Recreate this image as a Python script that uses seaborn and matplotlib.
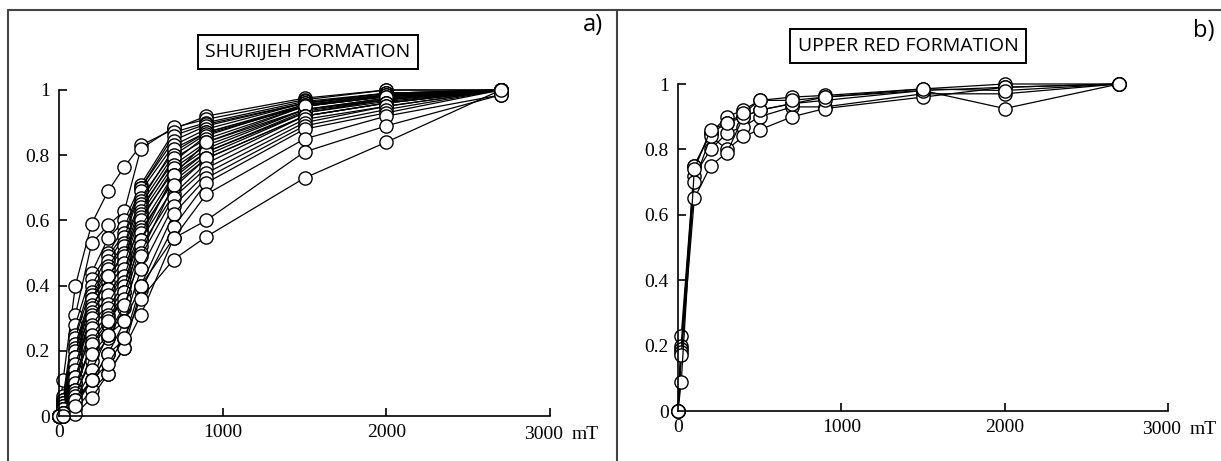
import numpy as np
import pandas as pd
import seaborn as sns
import matplotlib
matplotlib.use("Agg")
import matplotlib.pyplot as plt
from matplotlib.lines import Line2D
import matplotlib.transforms as mtransforms

# ---------------- data ----------------
field_a = [0, 25, 100, 200, 300, 400, 500, 700, 900, 1500, 2000, 2700]
shurijeh = [
    [0, 0.11, 0.40, 0.59, 0.69, 0.765, 0.83, 0.88, 0.92, 0.975, 1.00, 1.00],
    [0, 0.06, 0.31, 0.53, 0.585, 0.63, 0.82, 0.885, 0.91, 0.97, 1.00, 1.00],
    [0, 0.05, 0.28, 0.44, 0.545, 0.60, 0.71, 0.87, 0.90, 0.965, 0.99, 1.00],
    [0, 0.05, 0.25, 0.42, 0.50, 0.58, 0.70, 0.86, 0.895, 0.96, 0.99, 1.00],
    [0, 0.05, 0.24, 0.40, 0.49, 0.56, 0.70, 0.845, 0.89, 0.96, 0.99, 1.00],
    [0, 0.04, 0.22, 0.38, 0.475, 0.55, 0.69, 0.83, 0.88, 0.96, 0.985, 1.00],
    [0, 0.04, 0.21, 0.37, 0.46, 0.53, 0.67, 0.81, 0.87, 0.95, 0.985, 1.00],
    [0, 0.04, 0.20, 0.36, 0.45, 0.52, 0.66, 0.82, 0.87, 0.955, 0.98, 1.00],
    [0, 0.03, 0.18, 0.36, 0.43, 0.50, 0.65, 0.80, 0.865, 0.95, 0.98, 1.00],
    [0, 0.03, 0.16, 0.34, 0.41, 0.48, 0.64, 0.78, 0.86, 0.955, 0.985, 1.00],
    [0, 0.03, 0.18, 0.33, 0.43, 0.49, 0.63, 0.79, 0.85, 0.95, 0.98, 1.00],
    [0, 0.02, 0.14, 0.32, 0.39, 0.47, 0.62, 0.77, 0.84, 0.94, 0.975, 1.00],
    [0, 0.02, 0.16, 0.31, 0.36, 0.44, 0.61, 0.75, 0.82, 0.94, 0.975, 1.00],
    [0, 0.02, 0.14, 0.30, 0.37, 0.45, 0.60, 0.76, 0.83, 0.94, 0.97, 1.00],
    [0, 0.02, 0.12, 0.28, 0.345, 0.43, 0.58, 0.74, 0.81, 0.93, 0.97, 1.00],
    [0, 0.01, 0.10, 0.27, 0.33, 0.41, 0.57, 0.72, 0.80, 0.93, 0.965, 1.00],
    [0, 0.01, 0.12, 0.25, 0.31, 0.40, 0.56, 0.73, 0.81, 0.935, 0.97, 1.00],
    [0, 0.02, 0.10, 0.21, 0.28, 0.38, 0.54, 0.74, 0.84, 0.95, 0.98, 1.00],
    [0, 0.01, 0.08, 0.23, 0.30, 0.38, 0.54, 0.70, 0.79, 0.92, 0.96, 1.00],
    [0, 0.01, 0.08, 0.22, 0.29, 0.36, 0.52, 0.68, 0.775, 0.92, 0.96, 1.00],
    [0, 0.01, 0.07, 0.17, 0.24, 0.33, 0.50, 0.71, 0.79, 0.92, 0.96, 1.00],
    [0, 0.00, 0.06, 0.19, 0.25, 0.34, 0.49, 0.67, 0.76, 0.91, 0.95, 1.00],
    [0, 0.00, 0.05, 0.14, 0.25, 0.29, 0.45, 0.645, 0.745, 0.90, 0.95, 1.00],
    [0, 0.00, 0.04, 0.11, 0.19, 0.235, 0.40, 0.62, 0.73, 0.89, 0.94, 1.00],
    [0, 0.00, 0.02, 0.08, 0.13, 0.21, 0.385, 0.58, 0.715, 0.88, 0.93, 1.00],
    [0, 0.00, 0.005, 0.056, 0.13, 0.21, 0.31, 0.545, 0.68, 0.85, 0.92, 0.985],
    [0, 0.01, 0.05, 0.11, 0.19, 0.29, 0.40, 0.545, 0.60, 0.81, 0.89, 0.985],
    [0, 0.00, 0.03, 0.11, 0.16, 0.24, 0.36, 0.48, 0.55, 0.73, 0.84, 1.00],
]

field_b = [0, 20, 100, 200, 300, 400, 500, 700, 900, 1500, 2000, 2700]
upper_red = [
    [0, 0.23, 0.75, 0.85, 0.90, 0.92, 0.95, 0.96, 0.965, 0.985, 1.00, 1.00],
    [0, 0.20, 0.75, 0.85, 0.88, 0.90, 0.92, 0.94, 0.96, 0.98, 0.99, 1.00],
    [0, 0.19, 0.72, 0.80, 0.85, 0.87, 0.90, 0.93, 0.93, 0.97, 0.97, 1.00],
    [0, 0.18, 0.70, 0.84, 0.80, 0.84, 0.86, 0.90, 0.925, 0.96, 0.99, 1.00],
    [0, 0.17, 0.65, 0.75, 0.79, 0.90, 0.92, 0.94, 0.95, 0.98, 0.925, 1.00],
    [0, 0.09, 0.74, 0.86, 0.88, 0.91, 0.95, 0.95, 0.96, 0.985, 0.98, 1.00],
]

y_ticks = [0, 0.2, 0.4, 0.6, 0.8, 1.0]
y_tick_labels = ["0", "0.2", "0.4", "0.6", "0.8", "1"]
x_ticks = [0, 1000, 2000, 3000]
x_tick_labels = ["0", "1000", "2000", ""]
last_x_label = "3000"
unit_label = "mT"
titles = ["SHURIJEH FORMATION", "UPPER RED FORMATION"]
panel_tags = ["a)", "b)"]


def to_long(field, curves):
    rows = []
    for i, c in enumerate(curves):
        for f, v in zip(field, c):
            rows.append({"sample": i, "field": f, "irm": v})
    return pd.DataFrame(rows)


df_a = to_long(field_a, shurijeh)
df_b = to_long(field_b, upper_red)

sns.set_theme(style="white")
SERIF = ["Liberation Serif", "Times New Roman", "Nimbus Roman", "DejaVu Serif"]
SANS = ["Open Sans", "DejaVu Sans"]
plt.rcParams["font.family"] = SERIF

W, H = 1221, 461
fig = plt.figure(figsize=(W / 100, H / 100), dpi=100)


def px_axes(x0, x1, ytop, ybot):
    return fig.add_axes([x0 / W, (H - ybot) / H, (x1 - x0) / W, (ybot - ytop) / H])


ax_a = px_axes(59, 550, 90, 416)
ax_b = px_axes(678, 1168, 84, 411)

for ax, df, title, tag, tpos, tagpos in [
    (ax_a, df_a, titles[0], panel_tags[0], (308, 52), (593, 25)),
    (ax_b, df_b, titles[1], panel_tags[1], (908, 46), (1204, 31)),
]:
    sns.lineplot(
        data=df, x="field", y="irm", units="sample", estimator=None,
        color="black", linewidth=0.9, marker="o", markersize=9.5,
        markerfacecolor="white", markeredgecolor="black", markeredgewidth=1.0,
        clip_on=False, ax=ax, legend=False, sort=False,
    )
    ax.set_xlim(0, 3000)
    ax.set_ylim(0, 1)
    ax.set_xlabel("")
    ax.set_ylabel("")
    ax.set_facecolor("none")
    for s in ["top", "right"]:
        ax.spines[s].set_visible(False)
    for s in ["left", "bottom"]:
        ax.spines[s].set_color("black")
        ax.spines[s].set_linewidth(1.2)
    ax.set_yticks(y_ticks)
    ax.set_yticklabels(y_tick_labels, fontfamily=SERIF)
    ax.set_xticks(x_ticks)
    ax.set_xticklabels(x_tick_labels, fontfamily=SERIF)
    ax.tick_params(axis="both", direction="in", length=6, width=1.2,
                   colors="black", labelsize=14, left=True, bottom=True)
    ax.tick_params(axis="y", pad=6.5)
    ax.tick_params(axis="x", pad=5.5)
    # last tick label and unit
    base = mtransforms.blended_transform_factory(ax.transData, ax.transAxes)
    t1 = mtransforms.offset_copy(base, fig=fig, x=-26, y=-18, units="dots")
    t2 = mtransforms.offset_copy(base, fig=fig, x=49, y=-18, units="dots")
    ax.text(3000, 0, last_x_label, transform=t1, ha="left", va="center",
            fontsize=14, fontfamily=SERIF, color="black", clip_on=False)
    ax.text(3000, 0, unit_label, transform=t2, ha="right", va="center",
            fontsize=14, fontfamily=SERIF, color="black", clip_on=False)
    fig.text(tpos[0] / W, 1 - tpos[1] / H, title, ha="center", va="center",
             fontsize=14, fontfamily=SANS, color="black",
             bbox=dict(boxstyle="square,pad=0.4", fc="white", ec="black", lw=1.4))
    fig.text(tagpos[0] / W, 1 - tagpos[1] / H, tag, ha="center", va="center",
             fontsize=17, fontfamily=SANS, color="black")

# panel frame lines
border = "#444444"
fig.add_artist(Line2D([8 / W, 1], [1 - 10 / H, 1 - 10 / H], color=border, lw=1.5))
fig.add_artist(Line2D([8 / W, 8 / W], [0, 1 - 10 / H], color=border, lw=1.5))
fig.add_artist(Line2D([617 / W, 617 / W], [0, 1 - 10 / H], color=border, lw=1.5))

fig.savefig("out.png", dpi=100, facecolor="white")
